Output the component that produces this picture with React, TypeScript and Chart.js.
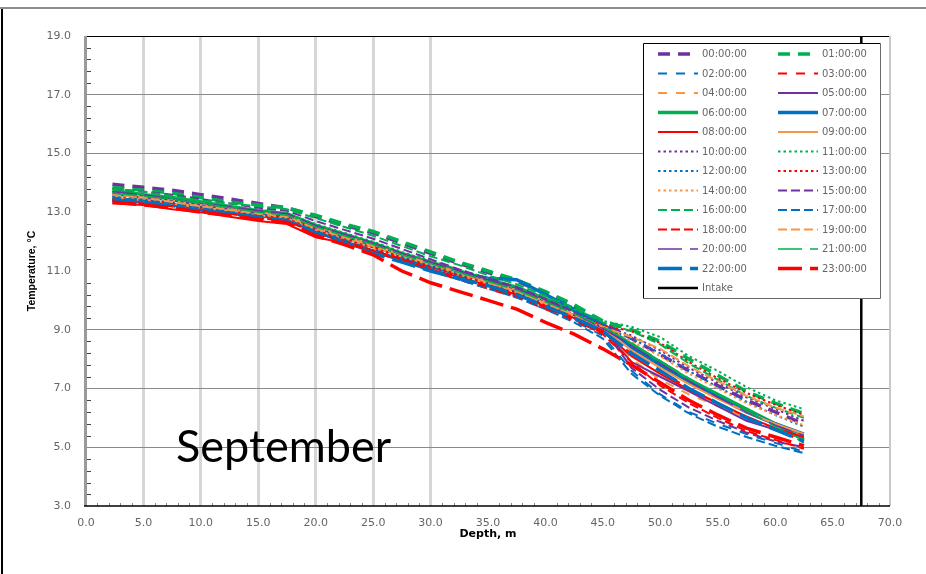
import React, { useEffect, useRef } from 'react';
import { Chart, registerables } from 'chart.js';

Chart.register(...registerables);

// ---------------- DATA ----------------
const depths = [2.3, 5, 7.5, 10, 12.5, 15, 17.5, 20, 22.5, 25, 27.5, 30, 32.5, 35, 37.5, 40, 42.5, 45, 47.5, 50, 52.5, 55, 57.5, 60, 62.5];

const hourLabels = [
  '00:00:00', '01:00:00', '02:00:00', '03:00:00', '04:00:00', '05:00:00',
  '06:00:00', '07:00:00', '08:00:00', '09:00:00', '10:00:00', '11:00:00',
  '12:00:00', '13:00:00', '14:00:00', '15:00:00', '16:00:00', '17:00:00',
  '18:00:00', '19:00:00', '20:00:00', '21:00:00', '22:00:00', '23:00:00',
];

const t00 = [13.95, 13.85, 13.75, 13.6, 13.45, 13.3, 13.15, 12.85, 12.55, 12.3, 11.95, 11.6, 11.25, 10.95, 10.65, 10.25, 9.8, 9.25, 8.7, 8.15, 7.6, 7.1, 6.6, 6.2, 5.8];
const t01 = [13.85, 13.75, 13.65, 13.5, 13.35, 13.25, 13.15, 12.9, 12.6, 12.35, 12.0, 11.65, 11.3, 11.0, 10.7, 10.3, 9.85, 9.3, 9.0, 8.6, 8.0, 7.45, 6.9, 6.5, 6.15];
const t02 = [13.5, 13.45, 13.3, 13.15, 13.0, 12.9, 12.8, 12.4, 12.1, 11.75, 11.4, 11.05, 10.75, 10.45, 10.15, 9.75, 9.3, 8.8, 7.6, 6.8, 6.2, 5.8, 5.45, 5.15, 4.85];
const t03 = [13.4, 13.35, 13.2, 13.05, 12.95, 12.8, 12.7, 12.3, 12.0, 11.7, 11.35, 11.0, 10.7, 10.4, 10.1, 9.7, 9.3, 8.9, 8.2, 7.6, 7.0, 6.5, 6.0, 5.6, 5.2];
const t04 = [13.55, 13.45, 13.35, 13.2, 13.1, 12.95, 12.85, 12.45, 12.15, 11.85, 11.5, 11.15, 10.85, 10.55, 10.25, 9.85, 9.45, 9.0, 8.0, 7.3, 6.8, 6.4, 6.0, 5.65, 5.3];
const t05 = [13.6, 13.5, 13.4, 13.25, 13.1, 12.95, 12.85, 12.45, 12.15, 11.85, 11.55, 11.25, 10.95, 10.65, 10.35, 9.95, 9.5, 9.0, 7.9, 7.4, 6.9, 6.4, 5.9, 5.6, 5.3];
const t06 = [13.75, 13.6, 13.5, 13.35, 13.2, 13.05, 12.95, 12.55, 12.25, 11.95, 11.6, 11.3, 11.0, 10.7, 10.45, 10.05, 9.65, 9.15, 8.5, 7.9, 7.3, 6.8, 6.3, 5.8, 5.25];
const t07 = [13.45, 13.35, 13.25, 13.1, 13.0, 12.9, 12.75, 12.35, 12.0, 11.65, 11.4, 11.15, 10.9, 10.75, 10.7, 10.2, 9.7, 9.2, 8.4, 7.8, 7.2, 6.7, 6.2, 5.8, 5.45];
const t08 = [13.3, 13.25, 13.1, 13.0, 12.85, 12.7, 12.6, 12.15, 11.95, 11.65, 11.35, 11.05, 10.8, 10.5, 10.2, 9.8, 9.4, 8.95, 8.1, 7.5, 6.95, 6.5, 6.05, 5.65, 5.35];
const t09 = [13.5, 13.4, 13.3, 13.15, 13.05, 12.9, 12.8, 12.4, 12.1, 11.8, 11.5, 11.2, 10.9, 10.6, 10.3, 9.9, 9.5, 9.05, 8.3, 7.7, 7.15, 6.65, 6.2, 5.8, 5.45];
const t10 = [13.65, 13.55, 13.45, 13.3, 13.15, 13.05, 12.95, 12.55, 12.25, 11.95, 11.6, 11.3, 11.0, 10.7, 10.4, 10.0, 9.6, 9.15, 8.8, 8.3, 7.7, 7.2, 6.7, 6.3, 5.9];
const t11 = [13.7, 13.6, 13.5, 13.35, 13.2, 13.1, 12.95, 12.6, 12.3, 12.0, 11.65, 11.35, 11.05, 10.75, 10.45, 10.05, 9.7, 9.3, 9.1, 8.75, 8.1, 7.6, 7.05, 6.6, 6.3];
const t12 = [13.55, 13.45, 13.35, 13.2, 13.1, 12.95, 12.85, 12.45, 12.15, 11.85, 11.5, 11.2, 10.9, 10.6, 10.3, 9.9, 9.5, 9.1, 8.7, 8.2, 7.6, 7.05, 6.55, 6.1, 5.7];
const t13 = [13.45, 13.4, 13.3, 13.15, 13.0, 12.9, 12.8, 12.4, 12.1, 11.8, 11.45, 11.15, 10.85, 10.55, 10.25, 9.85, 9.5, 9.15, 8.95, 8.55, 7.9, 7.35, 6.85, 6.45, 6.1];
const t14 = [13.6, 13.5, 13.4, 13.25, 13.1, 13.0, 12.9, 12.5, 12.2, 11.9, 11.55, 11.25, 10.95, 10.65, 10.35, 9.95, 9.55, 9.1, 8.6, 8.1, 7.5, 7.0, 6.5, 6.1, 5.75];
const t15 = [13.8, 13.7, 13.6, 13.45, 13.3, 13.15, 13.05, 12.7, 12.4, 12.1, 11.75, 11.4, 11.05, 10.75, 10.45, 10.05, 9.6, 9.05, 7.7, 6.95, 6.35, 5.9, 5.5, 5.2, 5.0];
const t16 = [13.8, 13.7, 13.55, 13.4, 13.3, 13.2, 13.1, 12.8, 12.5, 12.2, 11.85, 11.5, 11.2, 10.85, 10.55, 10.15, 9.75, 9.25, 8.95, 8.5, 7.85, 7.3, 6.75, 6.35, 6.0];
const t17 = [13.5, 13.4, 13.3, 13.15, 13.0, 12.85, 12.75, 12.35, 12.05, 11.7, 11.35, 11.0, 10.7, 10.4, 10.1, 9.7, 9.25, 8.7, 7.5, 6.75, 6.15, 5.7, 5.35, 5.05, 4.8];
const t18 = [13.4, 13.3, 13.2, 13.05, 12.95, 12.8, 12.7, 12.3, 12.0, 11.7, 11.4, 11.05, 10.75, 10.45, 10.15, 9.75, 9.35, 8.85, 7.9, 7.1, 6.5, 6.0, 5.55, 5.25, 4.95];
const t19 = [13.6, 13.5, 13.35, 13.2, 13.1, 12.95, 12.85, 12.45, 12.15, 11.85, 11.55, 11.25, 10.95, 10.6, 10.3, 9.9, 9.5, 9.1, 8.75, 8.35, 7.75, 7.25, 6.75, 6.35, 6.05];
const t20 = [13.7, 13.6, 13.45, 13.3, 13.2, 13.05, 12.95, 12.55, 12.25, 11.95, 11.6, 11.3, 11.0, 10.7, 10.4, 10.0, 9.55, 9.05, 8.45, 7.85, 7.25, 6.7, 6.2, 5.75, 5.4];
const t21 = [13.65, 13.55, 13.45, 13.3, 13.15, 13.0, 12.9, 12.5, 12.2, 11.9, 11.55, 11.25, 10.95, 10.65, 10.35, 9.95, 9.55, 9.1, 8.55, 7.95, 7.35, 6.8, 6.25, 5.7, 5.15];
const t22 = [13.4, 13.35, 13.2, 13.05, 12.95, 12.85, 12.7, 12.3, 11.95, 11.6, 11.3, 11.0, 10.75, 10.5, 10.2, 9.8, 9.4, 8.95, 8.2, 7.6, 7.0, 6.5, 6.0, 5.6, 5.2];
const t23 = [13.35, 13.25, 13.15, 13.0, 12.9, 12.75, 12.65, 12.2, 11.9, 11.55, 11.0, 10.6, 10.3, 10.0, 9.7, 9.25, 8.85, 8.35, 7.8, 7.2, 6.6, 6.1, 5.65, 5.35, 5.05];

const hourTemps = [t00, t01, t02, t03, t04, t05, t06, t07, t08, t09, t10, t11, t12, t13, t14, t15, t16, t17, t18, t19, t20, t21, t22, t23];

const intakeLabel = 'Intake';
const intakeDepth = [67.5, 67.5];
const intakeTemp = [3, 19];

const xTickMin = 0, xTickMax = 70, xTickStep = 5, xMinorStep = 1;
const yTickMin = 3, yTickMax = 19, yTickStep = 2, yMinorStep = 0.4;
const xTitle = 'Depth, m';
const yTitle = 'Temperature, °C';
const monthLabel = 'September';

// ---------------- STYLES ----------------
const PURPLE = '#7030A0', GREEN = '#00B050', BLUE = '#0070C0', RED = '#FF0000', ORANGE = '#F79646';
type Sty = { c: string; w: number; d: number[] };
const hourStyles: Sty[] = [
  { c: PURPLE, w: 3.5, d: [12, 8] }, { c: GREEN, w: 3.5, d: [12, 8] },
  { c: BLUE, w: 2, d: [9, 9] }, { c: RED, w: 2, d: [9, 9] },
  { c: ORANGE, w: 2, d: [9, 9] }, { c: PURPLE, w: 2, d: [] },
  { c: GREEN, w: 3.5, d: [] }, { c: BLUE, w: 3.5, d: [] },
  { c: RED, w: 2, d: [] }, { c: ORANGE, w: 2, d: [] },
  { c: PURPLE, w: 2, d: [2.5, 3] }, { c: GREEN, w: 2, d: [2.5, 3] },
  { c: BLUE, w: 2, d: [2.5, 3] }, { c: RED, w: 2, d: [2.5, 3] },
  { c: ORANGE, w: 2, d: [2.5, 3] }, { c: PURPLE, w: 2, d: [9, 4] },
  { c: GREEN, w: 2, d: [9, 4] }, { c: BLUE, w: 2, d: [9, 4] },
  { c: RED, w: 2, d: [9, 4] }, { c: ORANGE, w: 2, d: [9, 4] },
  { c: PURPLE, w: 1.5, d: [24, 8] }, { c: GREEN, w: 1.5, d: [24, 8] },
  { c: BLUE, w: 3.5, d: [24, 8] }, { c: RED, w: 3.5, d: [24, 8] },
];
const intakeStyle: Sty = { c: '#000000', w: 2.5, d: [] };

const TICK_FONT = { family: 'DejaVu Sans', size: 11 };
const TICK_COLOR = '#666666';

const decorPlugin = {
  id: 'decor',
  beforeDatasetsDraw(chart: any) {
    const { ctx, chartArea: a, scales } = chart;
    const xs = scales.x, ys = scales.y;
    ctx.save();
    // minor ticks (y)
    ctx.strokeStyle = '#404040';
    ctx.lineWidth = 1;
    const nY = Math.round((yTickMax - yTickMin) / yMinorStep);
    const perMajorY = Math.round(yTickStep / yMinorStep);
    for (let i = 1; i < nY; i++) {
      if (i % perMajorY === 0) continue;
      const y = Math.round(ys.getPixelForValue(yTickMin + i * yMinorStep)) + 0.5;
      ctx.beginPath(); ctx.moveTo(a.left, y); ctx.lineTo(a.left + 5, y); ctx.stroke();
    }
    // minor ticks (x)
    ctx.strokeStyle = '#8a8a8a';
    const nX = Math.round((xTickMax - xTickMin) / xMinorStep);
    const perMajorX = Math.round(xTickStep / xMinorStep);
    for (let i = 1; i < nX; i++) {
      if (i % perMajorX === 0) continue;
      const x = Math.round(xs.getPixelForValue(xTickMin + i * xMinorStep)) + 0.5;
      ctx.beginPath(); ctx.moveTo(x, a.bottom); ctx.lineTo(x, a.bottom - 3); ctx.stroke();
    }
    // plot area borders
    ctx.lineWidth = 1; ctx.strokeStyle = '#000';
    ctx.beginPath(); ctx.moveTo(a.left, a.top + 0.5); ctx.lineTo(a.right, a.top + 0.5); ctx.stroke();
    ctx.lineWidth = 2; ctx.strokeStyle = '#c8c8c8';
    ctx.beginPath(); ctx.moveTo(a.right, a.top); ctx.lineTo(a.right, a.bottom); ctx.stroke();
    ctx.lineWidth = 3; ctx.strokeStyle = '#9a9a9a';
    ctx.beginPath(); ctx.moveTo(a.left - 0.5, a.top); ctx.lineTo(a.left - 0.5, a.bottom); ctx.stroke();
    ctx.lineWidth = 1.5; ctx.strokeStyle = '#000';
    ctx.beginPath(); ctx.moveTo(a.left - 2, a.bottom); ctx.lineTo(a.right, a.bottom); ctx.stroke();
    ctx.restore();
  },
  afterDatasetsDraw(chart: any) {
    const { ctx, chartArea: a } = chart;
    ctx.save();
    // axis titles
    ctx.fillStyle = '#000';
    ctx.textAlign = 'center';
    ctx.textBaseline = 'middle';
    ctx.font = 'bold 11px "DejaVu Sans"';
    ctx.fillText(xTitle, (a.left + a.right) / 2, 534);
    ctx.save();
    ctx.translate(32, (a.top + a.bottom) / 2);
    ctx.rotate(-Math.PI / 2);
    ctx.font = 'bold 10.5px "Liberation Sans"';
    ctx.fillText(yTitle, 0, 0);
    ctx.restore();
    // month label
    ctx.textAlign = 'left';
    ctx.textBaseline = 'alphabetic';
    ctx.font = '45px Lato';
    ctx.fillText(monthLabel, 176, 462);
    // legend
    const lx = 643, ly = 43, lw = 237, lh = 255;
    ctx.fillStyle = '#fff';
    ctx.fillRect(lx, ly, lw, lh);
    ctx.lineWidth = 1;
    ctx.strokeStyle = '#000';
    ctx.beginPath();
    ctx.moveTo(lx + 0.5, ly + lh + 0.5); ctx.lineTo(lx + 0.5, ly + 0.5); ctx.lineTo(lx + lw + 0.5, ly + 0.5);
    ctx.stroke();
    ctx.strokeStyle = '#6a6a6a';
    ctx.beginPath();
    ctx.moveTo(lx + lw + 0.5, ly + 0.5); ctx.lineTo(lx + lw + 0.5, ly + lh + 0.5); ctx.lineTo(lx + 0.5, ly + lh + 0.5);
    ctx.stroke();
    const items: { label: string; s: Sty }[] = hourLabels.map((l, i) => ({ label: l, s: hourStyles[i] }));
    items.push({ label: intakeLabel, s: intakeStyle });
    ctx.font = '10px "DejaVu Sans"';
    ctx.textBaseline = 'middle';
    items.forEach((it, i) => {
      const col = i % 2, row = Math.floor(i / 2);
      const x0 = col === 0 ? 658 : 778;
      const y = 54 + row * 19.5;
      ctx.strokeStyle = it.s.c;
      ctx.lineWidth = it.s.w;
      ctx.setLineDash(it.s.d);
      ctx.lineCap = 'butt';
      ctx.beginPath(); ctx.moveTo(x0, y); ctx.lineTo(x0 + 40, y); ctx.stroke();
      ctx.setLineDash([]);
      ctx.fillStyle = '#666666';
      ctx.fillText(it.label, x0 + 44, y + 0.5);
    });
    ctx.restore();
  },
};

export default function App() {
  const ref = useRef<HTMLCanvasElement | null>(null);
  useEffect(() => {
    if (!ref.current) return;
    const datasets: any[] = hourTemps.map((temps, i) => ({
      label: hourLabels[i],
      data: depths.map((d, k) => ({ x: d, y: temps[k] })),
      borderColor: hourStyles[i].c,
      borderWidth: hourStyles[i].w,
      borderDash: hourStyles[i].d,
      pointRadius: 0,
      fill: false,
      tension: 0,
      order: 100 - i,
    }));
    datasets.push({
      label: intakeLabel,
      data: intakeDepth.map((d, k) => ({ x: d, y: intakeTemp[k] })),
      borderColor: intakeStyle.c,
      borderWidth: intakeStyle.w,
      pointRadius: 0,
      fill: false,
      order: 0,
    });
    const chart = new Chart(ref.current, {
      type: 'line',
      data: { datasets },
      plugins: [decorPlugin],
      options: {
        responsive: false,
        animation: false,
        devicePixelRatio: 1,
        layout: { padding: { top: 36, right: 36, left: 0, bottom: 0 } },
        plugins: { legend: { display: false }, tooltip: { enabled: false }, title: { display: false } },
        scales: {
          x: {
            type: 'linear',
            min: xTickMin, max: xTickMax,
            afterFit: (s: any) => { s.height = 68; },
            border: { display: false },
            grid: {
              drawTicks: false,
              lineWidth: 3,
              color: (c: any) => (c.tick && c.tick.value >= 5 && c.tick.value <= 30 ? '#d6d6d6' : 'rgba(0,0,0,0)'),
            },
            ticks: {
              stepSize: xTickStep,
              padding: 11,
              font: TICK_FONT,
              color: TICK_COLOR,
              maxRotation: 0,
              callback: (v: any) => Number(v).toFixed(1),
            },
          },
          y: {
            type: 'linear',
            min: yTickMin, max: yTickMax,
            afterFit: (s: any) => { s.width = 86; },
            border: { display: false },
            grid: {
              drawTicks: false,
              lineWidth: 1,
              color: (c: any) => {
                const v = c.tick && c.tick.value;
                return v === 5 || v === 7 || v === 9 || v === 15 || v === 17 ? '#8a8a8a' : 'rgba(0,0,0,0)';
              },
            },
            ticks: {
              stepSize: yTickStep,
              padding: 15,
              font: TICK_FONT,
              color: TICK_COLOR,
              callback: (v: any) => Number(v).toFixed(1),
            },
          },
        },
      },
    });
    return () => chart.destroy();
  }, []);
  return (
    <div style={{ position: 'absolute', left: 0, top: 0, width: 926, height: 574, background: '#fff', overflow: 'hidden' }}>
      <canvas ref={ref} width={926} height={574} style={{ position: 'absolute', left: 0, top: 0, width: 926, height: 574 }} />
      <div style={{ position: 'absolute', left: 0, top: 7, width: 926, height: 2, background: '#8c8c8c' }} />
      <div style={{ position: 'absolute', left: 1, top: 9, width: 2, height: 565, background: '#000' }} />
    </div>
  );
}
